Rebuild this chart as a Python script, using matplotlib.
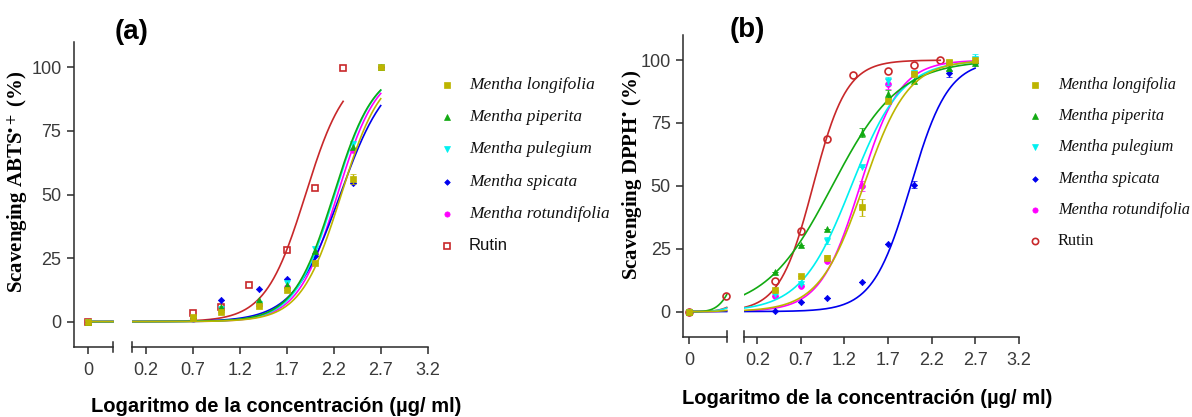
import numpy as np
import matplotlib
matplotlib.use("Agg")
import matplotlib.pyplot as plt
from matplotlib.lines import Line2D

plt.rcParams["font.family"] = ["Liberation Sans", "DejaVu Sans"]
plt.rcParams["mathtext.fontset"] = "stix"

# ---- data: (a) ABTS ----
x_men_a = [0.7, 1.0, 1.4, 1.7, 2.0, 2.4, 2.7]
longifolia_a = [2.0, 3.7, 6.3, 12.5, 23.1, 56.2, 100.0]
piperita_a = [1.5, 5.6, 8.3, 14.2, 27.7, 68.6, 100.0]
pulegium_a = [1.0, 5.0, 7.0, 15.0, 28.6, 70.0, 100.0]
spicata_a = [1.5, 8.3, 12.7, 16.7, 26.0, 54.5, 100.0]
rotundifolia_a = [1.2, 4.5, 6.5, 13.5, 26.5, 67.6, 100.0]
x_rut_a = [0.7, 1.0, 1.3, 1.7, 2.0, 2.3]
rutin_a = [3.3, 5.9, 14.4, 28.2, 52.5, 99.7]
err_longifolia_a = [0, 0, 0, 0, 0, 2.0, 0]

# fitted curves (log EC50, hill slope)
logec50_a = [2.28, 2.20, 2.21, 2.27, 2.24, 1.90]
hill_a = [2.03, 2.02, 2.05, 1.75, 2.05, 2.03]

# ---- data: (b) DPPH ----
x_men_b = [0.4, 0.7, 1.0, 1.4, 1.7, 2.0, 2.4, 2.7]
longifolia_b = [8.4, 14.2, 21.5, 41.4, 83.9, 94.6, 99.4, 100.0]
piperita_b = [15.7, 26.6, 32.8, 71.1, 86.6, 91.6, 97.0, 99.0]
pulegium_b = [7.0, 11.0, 28.2, 57.5, 91.6, 95.0, 99.0, 100.5]
spicata_b = [0.4, 4.0, 5.3, 11.7, 27.0, 50.5, 94.7, 99.0]
rotundifolia_b = [6.3, 10.2, 20.3, 49.8, 90.6, 95.0, 99.0, 99.5]
x_rut_b = [0.4, 0.7, 1.0, 1.3, 1.7, 2.0, 2.3]
rutin_b = [12.0, 31.9, 68.7, 93.9, 95.5, 98.2, 100.0]
rutin_b_first = 6.1

err_longifolia_b = [0, 0, 1.0, 3.5, 1.0, 1.0, 0.5, 0]
err_piperita_b = [0, 0, 0, 1.8, 1.5, 0, 1.5, 0]
err_pulegium_b = [0, 0, 1.5, 0, 1.5, 0, 0, 2.0]
err_spicata_b = [0, 0, 0, 0, 0, 1.5, 1.5, 0]
err_rotundifolia_b = [0, 0, 0, 2.0, 2.0, 0, 0, 0]

logec50_b = [1.42, 1.06, 1.28, 1.96, 1.38, 0.84]
hill_b = [1.7, 1.13, 1.5, 2.0, 1.9, 2.25]

names = ["Mentha longifolia", "Mentha piperita", "Mentha pulegium",
         "Mentha spicata", "Mentha rotundifolia", "Rutin"]
colors = ["#BDB500", "#12AA12", "#00F0F0", "#0000EE", "#FF00FF", "#C8282A"]
markers = ["s", "^", "v", "D", "o", "s"]
sizes = [4.2, 4.2, 4.2, 3.2, 4.2, 5.0]

W, H = 1192, 417
fig = plt.figure(figsize=(W / 100, H / 100), dpi=100)
AX_COL = "#2a2a2a"
TICK_COL = "#3a3a3a"


def px_axes(l, r, top, bottom):
    return fig.add_axes([l / W, 1 - bottom / H, (r - l) / W, (bottom - top) / H])


def logistic(x, c, h):
    return 100.0 / (1.0 + 10 ** ((c - x) * h))


def style(ax, left):
    for s in ["top", "right"]:
        ax.spines[s].set_visible(False)
    ax.spines["bottom"].set_color(AX_COL)
    ax.spines["bottom"].set_linewidth(1.1)
    if left:
        ax.spines["left"].set_color(AX_COL)
        ax.spines["left"].set_linewidth(1.1)
        ax.set_yticks([0, 25, 50, 75, 100])
    else:
        ax.spines["left"].set_visible(False)
        ax.set_yticks([])
    ax.tick_params(direction="out", length=5, width=1.1, color=AX_COL,
                   labelsize=13, labelcolor=TICK_COL, pad=4)
    ax.tick_params(axis="x", pad=6)
    ax.set_ylim(-10, 110)
    ax.patch.set_alpha(0)


def break_mark(ax, xpos):
    ax.plot([xpos, xpos], [-0.018, 0.018], transform=ax.transAxes,
            color=AX_COL, lw=1.1, clip_on=False)


def draw_panel(lseg, rseg, top, bottom, xl_left, xmen, xrut, series, errs,
               rut, ec50, hill, rut_marker, left_extra=None):
    axl = px_axes(lseg[0], lseg[1], top, bottom)
    axr = px_axes(rseg[0], rseg[1], top, bottom)
    style(axl, True)
    style(axr, False)
    axl.set_xlim(*xl_left)
    axl.set_xticks([0])
    axl.set_xticklabels(["0"])
    axr.set_xlim(0.05, 3.2)
    axr.set_xticks([0.2, 0.7, 1.2, 1.7, 2.2, 2.7, 3.2])
    axr.set_xticklabels(["0.2", "0.7", "1.2", "1.7", "2.2", "2.7", "3.2"])
    break_mark(axl, 1)
    break_mark(axr, 0)

    n = len(names)
    for i in range(n):
        z = 10 + (n - i) * 2
        is_rut = i == n - 1
        xs = xrut if is_rut else xmen
        ys = rut if is_rut else series[i]
        xend = xrut[-1] if is_rut else xmen[-1]
        # fitted curve
        xc = np.linspace(0.05, xend, 300)
        axr.plot(xc, logistic(xc, ec50[i], hill[i]), color=colors[i], lw=1.2, zorder=z)
        tl = np.linspace(0, xl_left[1], 60)
        y0 = logistic(0.05, ec50[i], hill[i])
        axl.plot(tl, y0 * (tl / xl_left[1]) ** 4, color=colors[i], lw=1.2, zorder=z,
                 clip_on=False)
        # points
        mk = rut_marker if is_rut else markers[i]
        face = "none" if is_rut else colors[i]
        mew = 1.2 if is_rut else 0.5
        e = errs[i] if errs[i] is not None else None
        axr.errorbar(xs, ys, yerr=e, fmt=mk, ms=sizes[i], mfc=face, mec=colors[i],
                     mew=mew, ecolor=colors[i], elinewidth=1.0, capsize=2.5,
                     capthick=1.0, zorder=z + 1, clip_on=False)
        axl.plot([0], [0], mk, ms=sizes[i], mfc=face, mec=colors[i], mew=mew,
                 zorder=z + 1, clip_on=False)
    if left_extra is not None:
        axl.plot([left_extra[0]], [left_extra[1]], rut_marker, ms=sizes[-1],
                 mfc="none", mec=colors[-1], mew=1.2, zorder=30, clip_on=False)
    return axl, axr


# panel (a)
axl_a, axr_a = draw_panel(
    (74, 113), (131.7, 427.7), 42, 347, (-0.15, 0.267),
    x_men_a, x_rut_a,
    [longifolia_a, piperita_a, pulegium_a, spicata_a, rotundifolia_a],
    [err_longifolia_a, None, None, None, None, None],
    rutin_a, logec50_a, hill_a, "s")

# panel (b)
axl_b, axr_b = draw_panel(
    (683.3, 726.7), (744.3, 1018.6), 35, 336.7, (-0.065, 0.433),
    x_men_b, x_rut_b,
    [longifolia_b, piperita_b, pulegium_b, spicata_b, rotundifolia_b],
    [err_longifolia_b, err_piperita_b, err_pulegium_b, err_spicata_b,
     err_rotundifolia_b, None],
    rutin_b, logec50_b, hill_b, "o", left_extra=(0.42, rutin_b_first))

# titles
fig.text(132 / W, 1 - 32 / H, "(a)", fontsize=20, fontweight="bold",
         ha="center", va="center")
fig.text(747 / W, 1 - 30 / H, "(b)", fontsize=20, fontweight="bold",
         ha="center", va="center")

# y labels
fig.text(18 / W, 1 - 182 / H, r"Scavenging ABTS$^{\bullet +}$ (%)", rotation=90,
         family=["Liberation Serif", "DejaVu Serif"], fontweight="bold", fontsize=15,
         ha="center", va="center")
fig.text(632 / W, 1 - 175 / H, r"Scavenging DPPH$^{\bullet}$ (%)", rotation=90,
         family=["Liberation Serif", "DejaVu Serif"], fontweight="bold", fontsize=15,
         ha="center", va="center")

# x labels
xlab = "Logaritmo de la concentración (µg/ ml)"
fig.text(276 / W, 1 - 407 / H, xlab, fontsize=14.5, fontweight="bold",
         ha="center", va="center")
fig.text(867 / W, 1 - 398 / H, xlab, fontsize=14.5, fontweight="bold",
         ha="center", va="center")


# legends
def legend(mx, tx, y0, dy, rut_marker, rut_serif, fs):
    for i, name in enumerate(names):
        y = 1 - (y0 + i * dy) / H
        is_rut = i == len(names) - 1
        mk = rut_marker if is_rut else markers[i]
        fig.add_artist(Line2D([mx / W], [y], marker=mk, ms=sizes[i] * 0.9,
                              mfc="none" if is_rut else colors[i], mec=colors[i],
                              mew=1.2 if is_rut else 0.5, ls="none",
                              transform=fig.transFigure))
        if is_rut and not rut_serif:
            fig.text(tx / W, y, name, fontsize=12, ha="left", va="center",
                     color="#111111")
        else:
            fig.text(tx / W, y, name, fontsize=fs, ha="left", va="center",
                     family=["Liberation Serif"],
                     style="normal" if is_rut else "italic", color="#111111")


legend(447, 469, 85, 32.2, "s", False, 12.5)
legend(1035, 1058, 85, 31.2, "o", True, 11.8)

fig.savefig("out.png", dpi=100)
